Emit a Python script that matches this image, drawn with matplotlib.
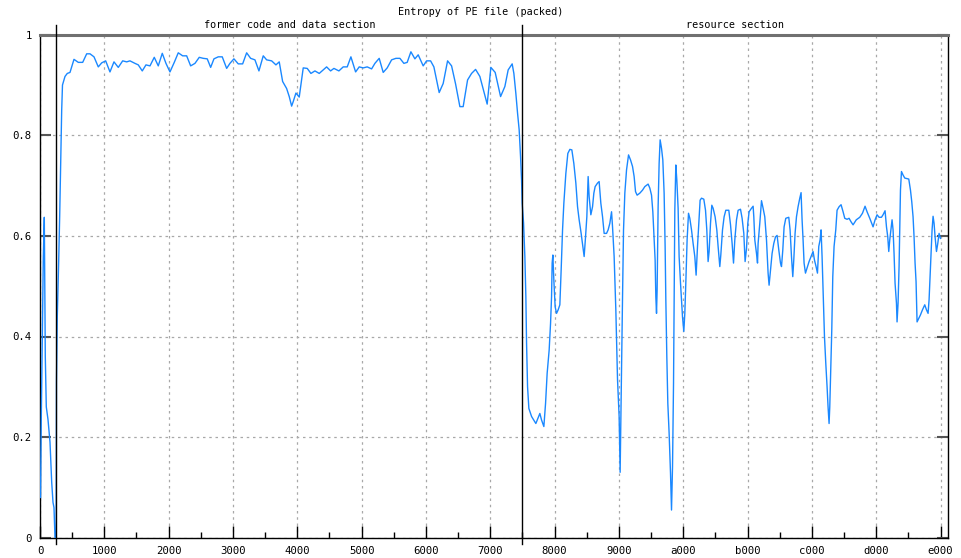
import matplotlib
matplotlib.use("Agg")
import matplotlib.pyplot as plt
from matplotlib.ticker import FixedLocator, FuncFormatter, MultipleLocator

# ---- data: file offset (bytes) vs. entropy ----
offsets = [
    32, 83, 146, 210, 274, 337, 401, 509, 637, 745, 828, 891, 955, 1031,
    1050, 1101, 1190, 1254, 1318, 1381, 1432,
    1592, 1738, 1910, 2164, 2438, 2718, 2973, 3183, 3438, 3711, 3928, 4182,
    4456, 4711, 4985, 5265, 5519, 5729, 6048, 6258, 6512, 6748, 7003, 7276,
    7531, 7786, 8021, 8276, 8550, 8804, 9084, 9339, 9593, 9867, 10141, 10396,
    10650, 10867, 11077, 11351, 11605, 11886, 12095, 12350, 12624, 12904,
    13159, 13413, 13687, 13942, 14215, 14432, 14750, 15024, 15234, 15450,
    15705, 15871, 16023, 16125, 16297, 16507,
    16762, 17016, 17252, 17507, 17781, 18035, 18251, 18506, 18716, 19034,
    19308, 19563, 19798, 20097, 20327, 20582, 20836, 21116, 21326, 21600,
    21855, 22109, 22389, 22663, 22918, 23172, 23382, 23618, 23873, 24083,
    24401, 24617, 24872, 25082, 25419, 25674, 25954, 26209, 26464, 26737,
    26947, 27227, 27482, 27737, 28010, 28265, 28475, 28711, 28985, 29329,
    29602, 29812, 30067, 30175, 30302, 30410, 30512, 30601, 30665, 30703,
    30792, 30875, 30939, 30983, 31047, 31130, 31302, 31575, 31830, 31938,
    32085, 32193, 32295, 32422, 32511, 32575, 32613, 32658, 32721, 32804,
    32893, 32995, 33103, 33186, 33275, 33358, 33485, 33612, 33740, 33867,
    33994, 34122, 34230, 34332, 34459, 34567, 34650, 34739, 34822, 34905,
    34968, 35077, 35185, 35268, 35351, 35503, 35605, 35713, 35822, 35924,
    36076, 36178, 36286, 36395, 36458, 36560, 36668, 36776, 36878, 36942,
    37031, 37095, 37158, 37241, 37349, 37477, 37604, 37731, 37833, 37922,
    38024, 38196, 38368, 38514, 38724, 38833, 38941, 39024, 39106, 39170,
    39215, 39259, 39297, 39361, 39425, 39489, 39578, 39660, 39743, 39807,
    39852, 39915, 39979, 40061, 40150, 40214, 40278, 40342, 40380, 40424,
    40488, 40552, 40634, 40698, 40787, 40851, 40914, 40997, 41061, 41124,
    41207, 41296, 41379, 41487, 41589, 41697, 41780, 41869, 41952, 42035,
    42124, 42270, 42379, 42461, 42544, 42608, 42697, 42780, 42863, 42990,
    43098, 43181, 43289, 43353, 43461, 43563, 43671, 43862, 43971, 44073,
    44162, 44244, 44353, 44455, 44607, 44709, 44817, 44900, 44989, 45072,
    45155, 45308, 45410, 45454, 45518, 45626, 45690, 45728, 45835, 45944,
    46046, 46153, 46262, 46364, 46427, 46516, 46618, 46726, 46835, 46937,
    47045, 47153, 47217, 47300, 47383, 47490, 47681, 47764, 47853, 47936,
    47999, 48082, 48171, 48273, 48382, 48464, 48528, 48592, 48655, 48744,
    48846, 48973, 49101, 49228, 49317, 49419, 49508, 49591, 49674, 49737,
    49801, 49865, 49954, 50037, 50120, 50183, 50247, 50291, 50355, 50419,
    50483, 50565, 50673, 50756, 50884, 51011, 51138, 51246, 51393, 51520,
    51647, 51775, 51979, 52201, 52373, 52538, 52666, 52838, 53048, 53176,
    53303, 53430, 53583, 53685, 53812, 53902, 53984, 54048, 54111, 54194,
    54258, 54322, 54385, 54449, 54538, 54576, 54640, 54704, 54748, 54793,
    54857, 54959, 55067, 55322, 55430, 55512, 55595, 55659, 55723, 55786,
    55850, 55959, 56067, 56194, 56340, 56449, 56551, 56615, 56678, 56742,
    56806, 56869, 56933, 56997, 57086, 57169, 57251, 57341,
]
entropy = [
    0.08, 0.24, 0.40, 0.556, 0.637, 0.36, 0.26, 0.235, 0.19, 0.11, 0.07, 0.06, 0.0, 0.0,
    0.31, 0.44, 0.55, 0.64, 0.745, 0.85, 0.90,
    0.917, 0.923, 0.925, 0.951, 0.945, 0.945, 0.962, 0.962, 0.956, 0.936, 0.944, 0.948,
    0.926, 0.946, 0.935, 0.948, 0.946, 0.948, 0.943, 0.940, 0.928, 0.940, 0.938, 0.955,
    0.938, 0.963, 0.943, 0.926, 0.945, 0.964, 0.958, 0.958, 0.938, 0.943, 0.955, 0.953,
    0.952, 0.935, 0.952, 0.956, 0.956, 0.933, 0.943, 0.952, 0.942, 0.942,
    0.964, 0.953, 0.950, 0.928, 0.958, 0.950, 0.948, 0.940, 0.946, 0.907,
    0.893, 0.877, 0.858, 0.867, 0.884, 0.876,
    0.934, 0.933, 0.923, 0.928, 0.923, 0.930, 0.936, 0.928, 0.933, 0.928,
    0.936, 0.936, 0.956, 0.926, 0.936, 0.934, 0.936, 0.932, 0.943, 0.953,
    0.925, 0.934, 0.950, 0.953, 0.953, 0.943, 0.945, 0.966, 0.952, 0.960,
    0.938, 0.948, 0.948, 0.936, 0.885, 0.903, 0.948, 0.938, 0.902, 0.857,
    0.857, 0.910, 0.923, 0.931, 0.917, 0.887, 0.862, 0.935, 0.925, 0.877,
    0.897, 0.930, 0.942, 0.923, 0.883, 0.844, 0.811, 0.757, 0.711, 0.665,
    0.626, 0.559, 0.479, 0.387, 0.300, 0.257, 0.241, 0.227, 0.247, 0.234,
    0.221, 0.267, 0.327, 0.373, 0.426, 0.479, 0.546, 0.562, 0.512, 0.459,
    0.446, 0.453, 0.463, 0.532, 0.612, 0.665, 0.724, 0.764, 0.772, 0.771,
    0.744, 0.705, 0.658, 0.632, 0.605, 0.579, 0.559, 0.598, 0.638, 0.718,
    0.678, 0.642, 0.658, 0.685, 0.698, 0.705, 0.708, 0.665, 0.638, 0.605,
    0.605, 0.612, 0.625, 0.648, 0.618, 0.559, 0.453, 0.314, 0.241, 0.13,
    0.340, 0.479, 0.612, 0.685, 0.731, 0.761, 0.751, 0.738, 0.718, 0.688,
    0.681, 0.685, 0.691, 0.698, 0.703, 0.695, 0.681, 0.648, 0.592, 0.552,
    0.479, 0.446, 0.492, 0.658, 0.744, 0.791, 0.774, 0.751, 0.685, 0.579,
    0.473, 0.360, 0.267, 0.208, 0.128, 0.055, 0.141, 0.307, 0.479, 0.651,
    0.741, 0.711, 0.655, 0.559, 0.506, 0.473, 0.439, 0.410, 0.446, 0.506,
    0.592, 0.645, 0.635, 0.612, 0.585, 0.559, 0.522, 0.579, 0.625, 0.671,
    0.675, 0.673, 0.651, 0.612, 0.549, 0.569, 0.625, 0.661, 0.655, 0.638,
    0.612, 0.579, 0.539, 0.562, 0.612, 0.638, 0.651, 0.651, 0.622, 0.585,
    0.546, 0.592, 0.632, 0.651, 0.653, 0.635, 0.605, 0.549, 0.575, 0.625,
    0.648, 0.655, 0.659, 0.638, 0.592, 0.565, 0.546, 0.585, 0.625, 0.670,
    0.655, 0.638, 0.592, 0.526, 0.502, 0.532, 0.565, 0.585, 0.598, 0.601,
    0.572, 0.546, 0.539, 0.572, 0.618, 0.635, 0.637, 0.612, 0.559, 0.519,
    0.552, 0.605, 0.638, 0.658, 0.675, 0.686, 0.632, 0.592, 0.546, 0.526,
    0.536, 0.549, 0.559, 0.569, 0.552, 0.539, 0.526, 0.579, 0.592, 0.612,
    0.559, 0.492, 0.400, 0.347, 0.300, 0.260, 0.227, 0.260, 0.333, 0.413,
    0.519, 0.579, 0.612, 0.651, 0.658, 0.662, 0.648, 0.635, 0.633, 0.635,
    0.628, 0.622, 0.632, 0.637, 0.645, 0.659, 0.648, 0.635, 0.618, 0.632,
    0.642, 0.637, 0.637, 0.642, 0.650, 0.618, 0.598, 0.569, 0.592, 0.615,
    0.632, 0.612, 0.565, 0.506, 0.466, 0.429, 0.466, 0.539, 0.618, 0.691,
    0.728, 0.721, 0.715, 0.713, 0.691, 0.668, 0.638, 0.598, 0.546, 0.509,
    0.429, 0.436, 0.443, 0.453, 0.463, 0.453, 0.446, 0.473, 0.519, 0.565,
    0.612, 0.639, 0.625, 0.598, 0.569, 0.585, 0.605, 0.595,
]

section_starts = [0x400, 0x7800]
section_names = ["former code and data section", "resource section"]
title = "Entropy of PE file (packed)"
x_end = 57820
y_ticks = [0, 0.2, 0.4, 0.6, 0.8, 1.0]
y_tick_labels = ["0", "0.2", "0.4", "0.6", "0.8", "1"]

FONT = "DejaVu Sans Mono"
FS = 7.3

fig = plt.figure(figsize=(9.61, 5.58), dpi=100)
ax = fig.add_axes([40 / 961, 1 - 537.7 / 558, 908 / 961, 503 / 558])

ax.plot(offsets, entropy, color="#1a88ff", lw=1.0, zorder=3)

ax.set_xlim(0, x_end)
ax.set_ylim(0, 1)

# ticks
ax.xaxis.set_major_locator(MultipleLocator(0x1000))
ax.xaxis.set_minor_locator(MultipleLocator(0x800))
ax.xaxis.set_major_formatter(FuncFormatter(lambda v, p: "%x" % int(round(v))))
ax.yaxis.set_major_locator(FixedLocator(y_ticks))
ax.set_yticklabels(y_tick_labels)
ax.tick_params(axis="x", which="major", direction="in", length=9, width=1,
               color="black", pad=6, top=False)
ax.tick_params(axis="x", which="minor", direction="in", length=4, width=1,
               color="black", top=False)
ax.tick_params(axis="y", which="major", direction="in", length=8, width=1.5,
               color="#555555", right=True, pad=6)
for lab in ax.get_xticklabels() + ax.get_yticklabels():
    lab.set_fontfamily(FONT)
    lab.set_fontsize(FS + 0.4)

# grid
ax.grid(True, which="major", color="#a8a8a8", linestyle=(0, (2, 3)), lw=0.9)
ax.set_axisbelow(True)

for side in ["left", "bottom", "right"]:
    ax.spines[side].set_color("black")
    ax.spines[side].set_linewidth(1.0)
ax.spines["top"].set_color("#707070")
ax.spines["top"].set_linewidth(2.2)

# section boundaries
for s in section_starts:
    ax.plot([s, s], [-0.012, 1.02], color="black", lw=1.0, clip_on=False, zorder=4)

bounds = section_starts + [x_end]
for i, name in enumerate(section_names):
    xc = (bounds[i] + bounds[i + 1]) / 2
    ax.text(xc, 1.01, name, ha="center", va="bottom", fontfamily=FONT,
            fontsize=FS, transform=ax.get_xaxis_transform())

fig.text(0.5, 1 - 12 / 558, title, ha="center", va="center",
         fontfamily=FONT, fontsize=FS)

fig.savefig("out.png", dpi=100)
